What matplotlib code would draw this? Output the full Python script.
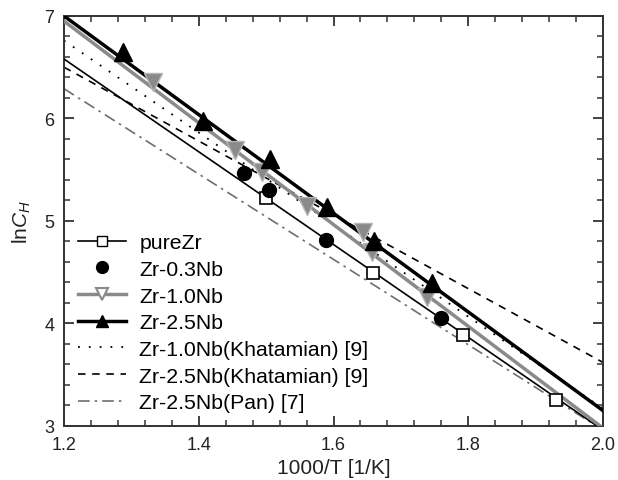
import numpy as np
import matplotlib
matplotlib.use("Agg")
import matplotlib.pyplot as plt
from matplotlib.ticker import MultipleLocator

plt.rcParams['font.family'] = ['Liberation Sans', 'DejaVu Sans']
plt.rcParams['mathtext.fontset'] = 'custom'
plt.rcParams['mathtext.rm'] = 'Liberation Sans'
plt.rcParams['mathtext.it'] = 'Liberation Sans:italic'

# ---- data ----
purezr_x = [1.500, 1.659, 1.792, 1.930]
purezr_y = [5.224, 4.493, 3.888, 3.254]

zr03_x = [1.467, 1.504, 1.589, 1.760]
zr03_y = [5.468, 5.302, 4.815, 4.054]

zr10_x = [1.332, 1.454, 1.494, 1.561, 1.644, 1.657, 1.739]
zr10_y = [6.356, 5.693, 5.478, 5.146, 4.893, 4.698, 4.259]

zr25_x = [1.288, 1.406, 1.506, 1.590, 1.660, 1.746]
zr25_y = [6.649, 5.976, 5.605, 5.137, 4.805, 4.395]

# fitted / literature lines: values at x = 1.2 and x = 2.0
line_x = [1.2, 2.0]
purezr_fit = [6.58, 2.96]
zr10_fit = [6.95, 2.98]
zr25_fit = [7.00, 3.15]
khat10 = [6.76, 3.17]
khat25 = [6.50, 3.62]
pan25 = [6.29, 2.96]

labels = ['pureZr', 'Zr-0.3Nb', 'Zr-1.0Nb', 'Zr-2.5Nb',
          'Zr-1.0Nb(Khatamian) [9]', 'Zr-2.5Nb(Khatamian) [9]',
          'Zr-2.5Nb(Pan) [7]']

fig = plt.figure(figsize=(6.18, 4.81), dpi=100)
ax = fig.add_axes([0.1036, 0.1123, 0.8721, 0.8524])

gray = '#8a8a8a'
dot_ls = (0, (1, 5))
dash_ls = (0, (4.5, 4))
dashdot_ls = (0, (7, 3, 1.5, 3))

# lines
ax.plot(line_x, khat10, ls=dot_ls, color='black', lw=1.3, zorder=2)
ax.plot(line_x, khat25, ls=dash_ls, color='black', lw=1.2, zorder=2)
ax.plot(line_x, pan25, ls=dashdot_ls, color='#6e6e6e', lw=1.2, zorder=2)
ax.plot(line_x, purezr_fit, '-', color='black', lw=1.2, zorder=3)
ax.plot(line_x, zr10_fit, '-', color=gray, lw=2.5, zorder=3)
ax.plot(line_x, zr25_fit, '-', color='black', lw=2.5, zorder=4)

# markers
ax.plot(purezr_x, purezr_y, 's', ms=8, mfc='white', mec='black', mew=1.2, zorder=5)
ax.plot(zr03_x, zr03_y, 'o', ms=10, mfc='black', mec='black', zorder=5)
ax.plot(zr10_x, zr10_y, 'v', ms=12.5, mfc=gray, mec='#b5b5b5', mew=1.0, zorder=5)
ax.plot(zr25_x, zr25_y, '^', ms=12.5, mfc='black', mec='black', zorder=6)

# legend handles
h = []
h.append(ax.plot([], [], '-s', color='black', lw=1.2, ms=7, mfc='white', mec='black')[0])
h.append(ax.plot([], [], 'o', color='black', ms=8.5)[0])
h.append(ax.plot([], [], '-v', color=gray, lw=2.5, ms=9, mfc='white', mec=gray, mew=1.5)[0])
h.append(ax.plot([], [], '-^', color='black', lw=2.5, ms=9)[0])
h.append(ax.plot([], [], ls=dot_ls, color='black', lw=1.3)[0])
h.append(ax.plot([], [], ls=dash_ls, color='black', lw=1.2)[0])
h.append(ax.plot([], [], ls=dashdot_ls, color='#6e6e6e', lw=1.2)[0])

leg = ax.legend(h, labels, loc='lower left', bbox_to_anchor=(0.0, 0.0),
                frameon=False, fontsize=15.3, handlelength=2.25,
                handletextpad=0.65, labelspacing=0.36, borderaxespad=0.45,
                borderpad=0.2)

ax.set_xlim(1.2, 2.0)
ax.set_ylim(3, 7)
ax.xaxis.set_major_locator(MultipleLocator(0.2))
ax.xaxis.set_minor_locator(MultipleLocator(0.04))
ax.yaxis.set_major_locator(MultipleLocator(1))
ax.yaxis.set_minor_locator(MultipleLocator(0.2))
ax.set_xticks([1.2, 1.4, 1.6, 1.8, 2.0])
ax.set_xticklabels(['1.2', '1.4', '1.6', '1.8', '2.0'])
ax.set_yticks([3, 4, 5, 6, 7])
ax.set_yticklabels(['3', '4', '5', '6', '7'])
ax.tick_params(which='both', direction='in', top=True, right=True,
               labelsize=13, colors='#333333', labelcolor='#222222')
ax.tick_params(which='major', length=7, width=1.3, pad=7)
ax.tick_params(which='minor', length=4, width=1.1)
for s in ax.spines.values():
    s.set_linewidth(1.4)
    s.set_color('#333333')

ax.set_xlabel('1000/T [1/K]', fontsize=15, color='#222222', labelpad=4)
ax.set_ylabel(r'ln$C_H$', fontsize=15, color='#222222', labelpad=8)

fig.savefig('out.png', dpi=100)
